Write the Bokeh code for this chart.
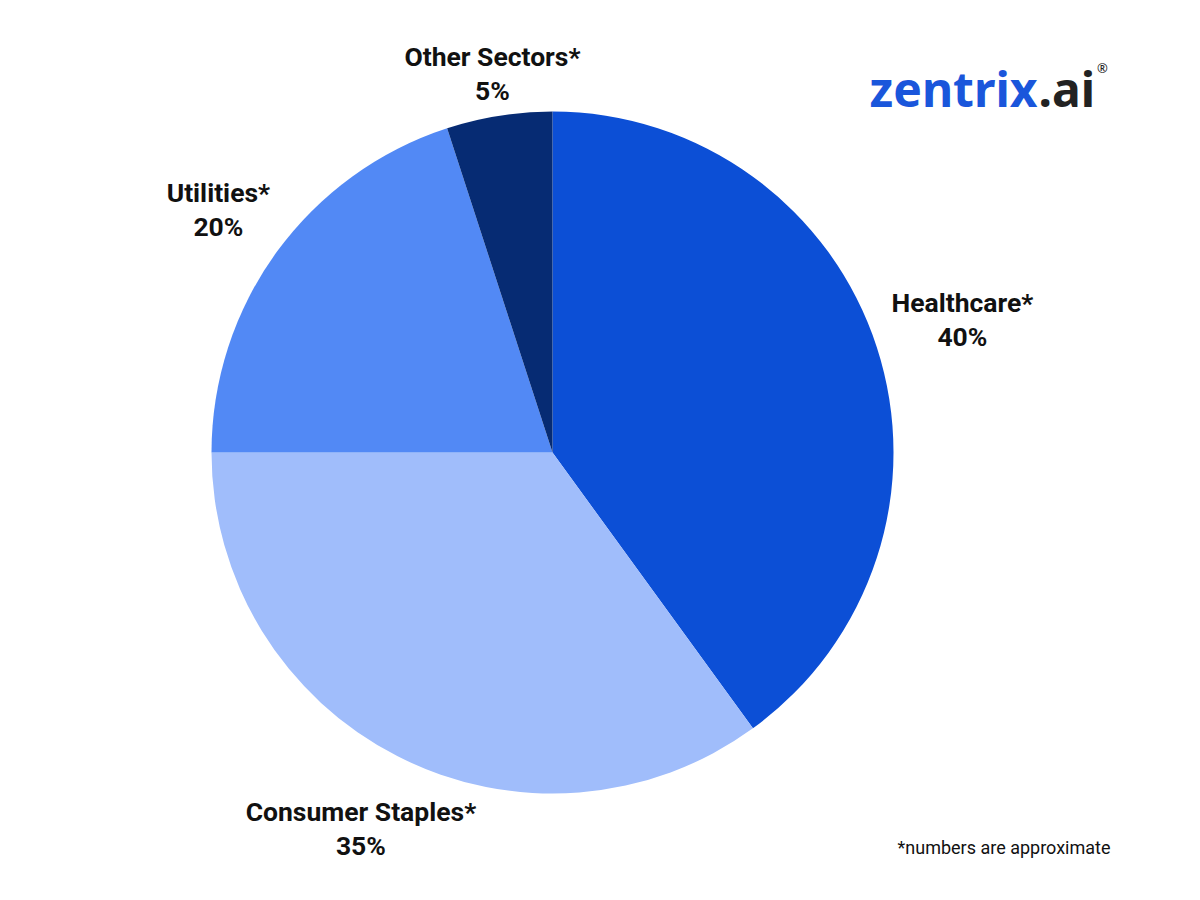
import math
from bokeh.plotting import figure
from bokeh.models import Range1d, ColumnDataSource
from bokeh.core.properties import value
from bokeh.embed import file_html
from bokeh.resources import INLINE

# ---- data ----
sectors = ["Healthcare*", "Consumer Staples*", "Utilities*", "Other Sectors*"]
shares = [40, 35, 20, 5]
colors = ["#0c4fd6", "#a0bdfb", "#5289f5", "#062b73"]

# ---- layout (page pixel space, y measured down from top) ----
W, H = 1184, 884
CX, CY, R = 552, 452, 341
label_dist = [431, 422, 413, 384]
LINE = 34

def Y(py):
    return 900 - py

p = figure(width=W, height=H, x_range=Range1d(0, W), y_range=Range1d(900 - H, 900),
           output_backend="svg", toolbar_location=None, min_border=0)
p.axis.visible = False
p.grid.visible = False
p.outline_line_color = None
p.background_fill_color = "white"
p.border_fill_color = "white"

total = sum(shares)
starts, ends, name_x, name_y, pct_x, pct_y, pcts = [], [], [], [], [], [], []
cur = math.pi / 2
for i, s in enumerate(shares):
    sweep = 2 * math.pi * s / total
    end = cur
    start = cur - sweep
    starts.append(start)
    ends.append(end)
    mid = (start + end) / 2
    lx = CX + label_dist[i] * math.cos(mid)
    ly = Y(CY) + label_dist[i] * math.sin(mid)
    name_x.append(lx)
    name_y.append(ly + LINE / 2)
    pct_x.append(lx)
    pct_y.append(ly - LINE / 2)
    pcts.append(f"{s}%")
    cur = start

src = ColumnDataSource(dict(start=starts, end=ends, color=colors, nx=name_x, ny=name_y,
                            px=pct_x, py=pct_y, name=sectors, pct=pcts))

p.wedge(x=CX, y=Y(CY), radius=R, start_angle="start", end_angle="end",
        fill_color="color", line_color=None, source=src)

p.text(x="nx", y="ny", text="name", source=src, text_font=value("Roboto"),
       text_font_style="bold", text_font_size="26.5px", text_color="#111111",
       text_align="center", text_baseline="middle")
p.text(x="px", y="py", text="pct", source=src, text_font=value("Roboto"),
       text_font_style="bold", text_font_size="26.5px", text_color="#111111",
       text_align="center", text_baseline="middle")

# logo
p.text(x=[1037], y=[Y(88)], text=["zentrix"], text_font=value("Noto Sans"),
       text_font_style="bold", text_font_size="48px", text_color="#1a56db",
       text_align="right", text_baseline="middle")
p.text(x=[1038], y=[Y(88)], text=[".ai"], text_font=value("Noto Sans"),
       text_font_style="bold", text_font_size="48px", text_color="#222222",
       text_align="left", text_baseline="middle")
p.text(x=[1102], y=[Y(67)], text=["®"], text_font=value("Noto Sans"),
       text_font_size="13px", text_color="#222222",
       text_align="center", text_baseline="middle")

# footnote
p.text(x=[1110], y=[Y(847)], text=["*numbers are approximate"], text_font=value("Roboto"),
       text_font_size="18px", text_color="#111111",
       text_align="right", text_baseline="middle")

open("out.html", "w").write(file_html(p, INLINE))
